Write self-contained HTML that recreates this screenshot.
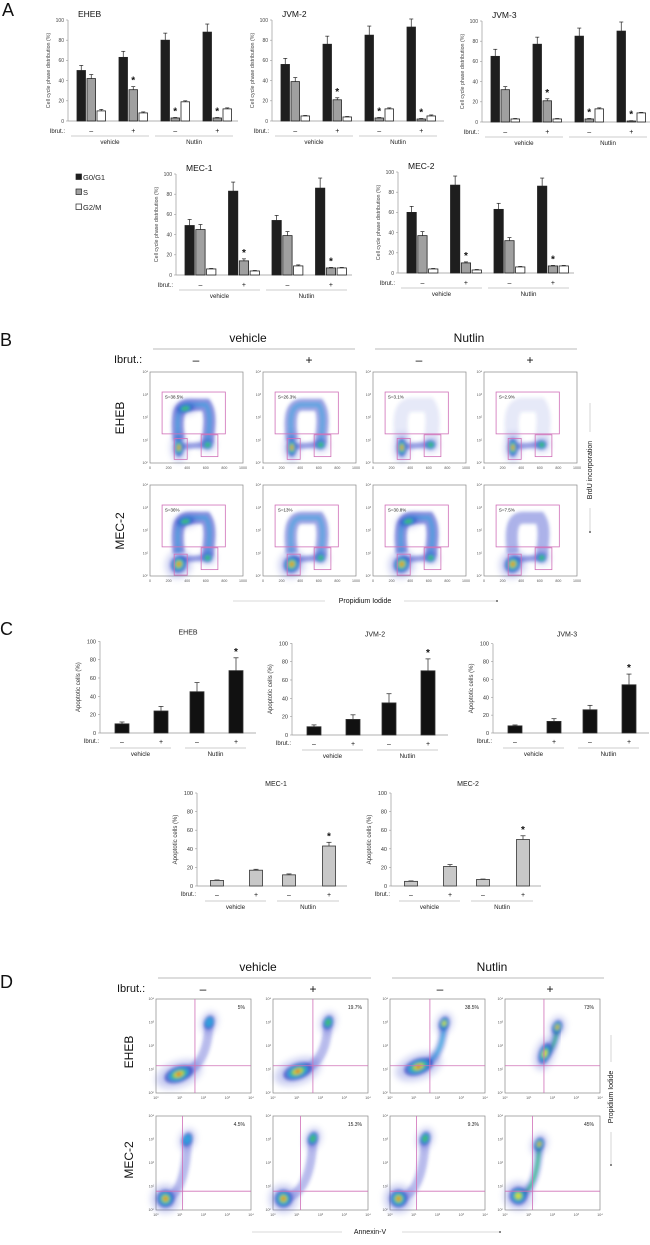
<!DOCTYPE html>
<html>
<head>
<meta charset="utf-8">
<style>
html,body{margin:0;padding:0;background:#fff;}
svg{display:block;font-family:"Liberation Sans",Arial,sans-serif;}
</style>
</head>
<body>
<svg id="fig" xmlns="http://www.w3.org/2000/svg" width="650" height="1245" viewBox="0 0 650 1245">
<defs>
<filter id="soft" x="-30%" y="-30%" width="160%" height="160%"><feGaussianBlur stdDeviation="1.6"/></filter>
<filter id="haze" x="-50%" y="-50%" width="200%" height="200%"><feGaussianBlur stdDeviation="3.5"/></filter>
</defs>
</svg>
<script>
// ---------- Panel A data (cell cycle %, groups: veh-, veh+, nut-, nut+) ----------
const phaseCats = ['G0/G1','S','G2/M'];
const ibrutLabels = ['–','+','–','+'];
const treatLabels = ['vehicle','Nutlin'];
const cycleTicks = [0,20,40,60,80,100];

const ehebG1 = [50,63,80,88];   const ehebG1Err = [5,6,7,8];
const ehebS  = [42,31,3,3];     const ehebSErr  = [4,3,0.5,0.5];
const ehebG2M= [10,8,19,12];    const ehebG2MErr= [1.5,1,1,1];
const jvm2G1 = [56,76,85,93];   const jvm2G1Err = [6,8,9,8];
const jvm2S  = [39,21,3,2];     const jvm2SErr  = [4,2,0.5,0.5];
const jvm2G2M= [5,4,12,5];      const jvm2G2MErr= [0.5,0.5,1,1];
const jvm3G1 = [65,77,85,90];   const jvm3G1Err = [7,7,8,9];
const jvm3S  = [32,21,3,1];     const jvm3SErr  = [3,2,0.5,0.3];
const jvm3G2M= [3,3,13,9];      const jvm3G2MErr= [0.5,0.5,1,0.5];
const mec1G1 = [49,83,54,86];   const mec1G1Err = [6,9,5,10];
const mec1S  = [45,14,39,7];    const mec1SErr  = [5,2,4,0.5];
const mec1G2M= [6,4,9,7];       const mec1G2MErr= [0.5,0.5,1,0.5];
const mec2G1 = [60,87,63,86];   const mec2G1Err = [6,9,6,8];
const mec2S  = [37,10,32,7];    const mec2SErr  = [4,1,3,0.5];
const mec2G2M= [4,3,6,7];       const mec2G2MErr= [0.5,0.5,0.5,0.5];
const starsTop = [false,true,true,true];
const starsBottom = [false,true,false,true];

// ---------- Panel C data (apoptotic cells %) ----------
const apopTicks = [0,20,40,60,80,100];
const ehebApop = [10,24,45,68];  const ehebApopErr = [2,5,10,14];
const jvm2Apop = [9,17,35,70];   const jvm2ApopErr = [2,5,10,13];
const jvm3Apop = [8,13,26,54];   const jvm3ApopErr = [1,3,5,12];
const mec1Apop = [6,17,12,43];   const mec1ApopErr = [0.5,1,1,4];
const mec2Apop = [5,21,7,50];    const mec2ApopErr = [0.5,2,0.5,4];
const apopStars = [false,false,false,true];

// ---------- Panel B / D labels ----------
const bPercents = ['S=38.5%','S=26.3%','S=3.1%','S=2.9%','S=36%','S=13%','S=30.8%','S=7.5%'];
const bSIntensity = [4,3,1,1,4,3,4,2];
const dPercents = ['5%','19.7%','38.5%','73%','4.5%','15.3%','9.3%','45%'];
const bxTicks = ['0','200','400','600','800','1000'];
const logTicks = ['10⁰','10¹','10²','10³','10⁴'];

const NS = 'http://www.w3.org/2000/svg';
const svg = document.getElementById('fig');
function mk(parent, tag, attrs){
  const e = document.createElementNS(NS, tag);
  for (const k in attrs) e.setAttribute(k, attrs[k]);
  parent.appendChild(e);
  return e;
}
function tx(parent, x, y, s, size, anchor, extra){
  const a = {x:x, y:y, 'font-size':size, 'text-anchor':anchor||'start', fill:'#222'};
  if (extra) for (const k in extra) a[k] = extra[k];
  const t = mk(parent, 'text', a);
  t.textContent = s;
  return t;
}

// ---------- Panel letters ----------
[['A',2,16],['B',0,346],['C',0,635],['D',0,988]].forEach(function(p){
  const t = tx(svg, p[1], p[2], p[0], 18, 'start', {fill:'#111'});
  
  
});

// ---------- Cycle bar chart ----------
function cycleChart(name, ax, zy, title, g1, g1e, s, se, g2, g2e, stars, spacing, bw, len){
  const g = mk(svg, 'g', {});
  
  
  const k = 1.01;
  const y = function(v){ return zy - v * k; };
  mk(g, 'line', {x1:ax, y1:y(100), x2:ax, y2:zy, stroke:'#999', 'stroke-width':0.7});
  mk(g, 'line', {x1:ax, y1:zy, x2:ax+len, y2:zy, stroke:'#999', 'stroke-width':0.7});
  cycleTicks.forEach(function(t){
    mk(g, 'line', {x1:ax-2, y1:y(t), x2:ax, y2:y(t), stroke:'#999', 'stroke-width':0.6});
    const l = tx(g, ax-4, y(t)+1.8, String(t), 5, 'end', {fill:'#444'});
    
    
  });
  const yt = tx(g, 0, 0, 'Cell cycle phase distribution (%)', 5.3, 'middle', {fill:'#444', transform:'translate(' + (ax-18) + ',' + y(50) + ') rotate(-90)'});
  
  
  const tt = tx(g, ax+10, zy-104, title, 8.5, 'start', {fill:'#111'});
  
  
  const series = [[g1,g1e,'#1e1e1e'],[s,se,'#a0a0a0'],[g2,g2e,'#ffffff']];
  for (let gi=0; gi<4; gi++){
    const gx = ax + 9 + gi*spacing;
    series.forEach(function(sr, si){
      const bx = gx + si*(bw+1.5);
      const v = sr[0][gi], e = sr[1][gi];
      mk(g, 'line', {x1:bx+bw/2, y1:y(v), x2:bx+bw/2, y2:y(v+e), stroke:'#222', 'stroke-width':0.7});
      mk(g, 'line', {x1:bx+bw/2-2, y1:y(v+e), x2:bx+bw/2+2, y2:y(v+e), stroke:'#222', 'stroke-width':0.7});
      const r = mk(g, 'rect', {x:bx, y:y(v), width:bw, height:v*k, fill:sr[2], stroke:'#222', 'stroke-width':0.8});
      
      
      if (si===1 && stars[gi]){
        const st = tx(g, bx+bw/2, y(v+e)-3, '*', 10, 'middle', {fill:'#111', 'font-weight':'bold'});
        
        
      }
    });
    const il = tx(g, gx + bw + 1.5 + bw/2, zy+12, ibrutLabels[gi], 7, 'middle', {fill:'#111'});
    
    
  }
  const ib = tx(g, ax-3, zy+12, 'Ibrut.:', 6, 'end', {fill:'#222'});
  
  
  for (let t=0; t<2; t++){
    const x0 = ax + 3 + t*2*spacing, x1 = x0 + 2*spacing - 6;
    mk(g, 'line', {x1:x0, y1:zy+15, x2:x1, y2:zy+15, stroke:'#bbb', 'stroke-width':0.8});
    const tl = tx(g, (x0+x1)/2, zy+23, treatLabels[t], 6.2, 'middle', {fill:'#222'});
    
    
  }
}
cycleChart('eheb', 68, 121, 'EHEB', ehebG1, ehebG1Err, ehebS, ehebSErr, ehebG2M, ehebG2MErr, starsTop, 42, 8.5, 170);
cycleChart('jvm2', 272, 121, 'JVM-2', jvm2G1, jvm2G1Err, jvm2S, jvm2SErr, jvm2G2M, jvm2G2MErr, starsTop, 42, 8.5, 172);
cycleChart('jvm3', 482, 122, 'JVM-3', jvm3G1, jvm3G1Err, jvm3S, jvm3SErr, jvm3G2M, jvm3G2MErr, starsTop, 42, 8.5, 168);
cycleChart('mec1', 176, 275, 'MEC-1', mec1G1, mec1G1Err, mec1S, mec1SErr, mec1G2M, mec1G2MErr, starsBottom, 43.5, 9.3, 176);
cycleChart('mec2', 398, 273, 'MEC-2', mec2G1, mec2G1Err, mec2S, mec2SErr, mec2G2M, mec2G2MErr, starsBottom, 43.5, 9.3, 176);

// legend
const legFill = ['#1e1e1e','#a0a0a0','#ffffff'];
phaseCats.forEach(function(c, i){
  const r = mk(svg, 'rect', {x:76, y:174+i*15, width:5.5, height:5.5, fill:legFill[i], stroke:'#222', 'stroke-width':0.7});
  
  
  const t = tx(svg, 83, 180+i*15, c, 7.5, 'start', {fill:'#222'});
  
  
});

// ---------- Apoptosis bar chart ----------
function apopChart(name, ax, zy, k, title, titleDx, vals, errs, fill, offs, bw, len){
  const g = mk(svg, 'g', {});
  
  
  const y = function(v){ return zy - v*k; };
  mk(g, 'line', {x1:ax, y1:y(100), x2:ax, y2:zy, stroke:'#999', 'stroke-width':0.7});
  mk(g, 'line', {x1:ax, y1:zy, x2:ax+len, y2:zy, stroke:'#999', 'stroke-width':0.7});
  apopTicks.forEach(function(t){
    mk(g, 'line', {x1:ax-2, y1:y(t), x2:ax, y2:y(t), stroke:'#999', 'stroke-width':0.6});
    const l = tx(g, ax-4, y(t)+2, String(t), 5.5, 'end', {fill:'#333'});
    
    
  });
  const yt = tx(g, 0, 0, 'Apoptotic cells (%)', 6, 'middle', {fill:'#333', transform:'translate(' + (ax-20) + ',' + y(50) + ') rotate(-90)'});
  
  
  const tt = tx(g, ax+titleDx, y(100)-7, title, 7, 'middle', {fill:'#222'});
  
  
  for (let i=0; i<4; i++){
    const cx = ax + offs[i];
    const v = vals[i], e = errs[i];
    mk(g, 'line', {x1:cx, y1:y(v), x2:cx, y2:y(v+e), stroke:'#222', 'stroke-width':0.7});
    mk(g, 'line', {x1:cx-2.5, y1:y(v+e), x2:cx+2.5, y2:y(v+e), stroke:'#222', 'stroke-width':0.7});
    const r = mk(g, 'rect', {x:cx-bw/2, y:y(v), width:bw, height:v*k, fill:fill, stroke:'#333', 'stroke-width':0.8});
    
    
    if (apopStars[i]){
      const st = tx(g, cx, y(v+e)-3, '*', 10, 'middle', {fill:'#111', 'font-weight':'bold'});
      
      
    }
    const il = tx(g, cx, zy+11, ibrutLabels[i], 7, 'middle', {fill:'#111'});
    
    
  }
  const ib = tx(g, ax-1, zy+10, 'Ibrut.:', 6, 'end', {fill:'#222'});
  
  
  for (let t=0; t<2; t++){
    const x0 = ax + offs[2*t] - 12, x1 = ax + offs[2*t+1] + 10;
    mk(g, 'line', {x1:x0, y1:zy+15, x2:x1, y2:zy+15, stroke:'#bbb', 'stroke-width':0.8});
    const tl = tx(g, (x0+x1)/2, zy+23, treatLabels[t], 6.2, 'middle', {fill:'#222'});
    
    
  }
}
const topOffs = [22,61,97,136];
const botOffs = [20,59,92,132];
apopChart('eheb', 100, 733, 0.917, 'EHEB', 88, ehebApop, ehebApopErr, '#111', topOffs, 14, 156);
apopChart('jvm2', 292, 735, 0.917, 'JVM-2', 83, jvm2Apop, jvm2ApopErr, '#111', topOffs, 14, 156);
apopChart('jvm3', 493, 733, 0.893, 'JVM-3', 74, jvm3Apop, jvm3ApopErr, '#111', topOffs, 14, 156);
apopChart('mec1', 197, 886, 0.93, 'MEC-1', 79, mec1Apop, mec1ApopErr, '#c8c8c8', botOffs, 13, 150);
apopChart('mec2', 391, 886, 0.93, 'MEC-2', 77, mec2Apop, mec2ApopErr, '#c8c8c8', botOffs, 13, 150);

// ---------- Flow plot helpers ----------
const heat = ['#2a38c0','#2aa6e0','#40c060','#e8e040','#e02a20'];
function blob(g, x, y, rx, ry, rot, lvl){
  const b = mk(g, 'g', {filter:'url(#soft)'});
  mk(g, 'ellipse', {cx:x, cy:y, rx:rx*1.6, ry:ry*1.6, fill:'#3040c8', opacity:0.25, filter:'url(#haze)',
      transform:'rotate(' + rot + ' ' + x + ' ' + y + ')'});
  g.appendChild(b);
  for (let i=0; i<lvl; i++){
    const s = [1,0.72,0.52,0.34,0.18][i];
    mk(b, 'ellipse', {cx:x, cy:y, rx:rx*s, ry:ry*s, fill:heat[i], opacity:i===0?0.7:0.9,
      transform:'rotate(' + rot + ' ' + x + ' ' + y + ')'});
  }
}
function frame(g, x, y, w, h, xt){
  mk(g, 'rect', {x:x, y:y, width:w, height:h, fill:'#fff', stroke:'#888', 'stroke-width':0.7});
  xt.forEach(function(t, i){
    tx(g, x + i*w/(xt.length-1), y+h+6, t, 3.6, 'middle', {fill:'#555'});
  });
  logTicks.forEach(function(t, i){
    tx(g, x-2, y+h - i*h/4 + 1.2, t, 3.6, 'end', {fill:'#555'});
  });
}
function lbl(g, x, y, s, size, anchor, rot, name){
  const t = tx(g, x, y, s, size, anchor, {fill:'#111', transform: rot ? 'rotate(-90 ' + x + ' ' + y + ')' : ''});
  
  
  return t;
}

// ---------- Panel B ----------
(function(){
  const g = mk(svg, 'g', {});
  
  
  const cols = [150,263,373,484], rows = [372,485], w = 93, h = 91;
  lbl(g, 248, 342, 'vehicle', 12, 'middle', false, 'header-vehicle');
  lbl(g, 469, 342, 'Nutlin', 12, 'middle', false, 'header-nutlin');
  mk(g, 'line', {x1:153, y1:349, x2:355, y2:349, stroke:'#bbb', 'stroke-width':1});
  mk(g, 'line', {x1:375, y1:349, x2:577, y2:349, stroke:'#bbb', 'stroke-width':1});
  lbl(g, 114, 363, 'Ibrut.:', 11, 'start', false, 'ibrut-label');
  cols.forEach(function(cx, i){ lbl(g, cx + 46, 364, ibrutLabels[i], 12, 'middle', false, 'ibrut-sign'); });
  lbl(g, 124, 418, 'EHEB', 12, 'middle', true, 'row-label-eheb');
  lbl(g, 124, 531, 'MEC-2', 12, 'middle', true, 'row-label-mec2');
  for (let r=0; r<2; r++) for (let c=0; c<4; c++){
    const x = cols[c], y = rows[r], idx = r*4+c;
    const p = mk(g, 'g', {});
    
    
    frame(p, x, y, w, h, bxTicks);
    const U = function(u){ return x + u*w; }, V = function(v){ return y + v*h; };
    const si = bSIntensity[idx];
    const d = 'M' + U(.31) + ' ' + V(.75) + ' C' + U(.28) + ' ' + V(.5) + ' ' + U(.3) + ' ' + V(.36) + ' ' + U(.42) + ' ' + V(.36) +
      ' L' + U(.6) + ' ' + V(.36) + ' C' + U(.66) + ' ' + V(.45) + ' ' + U(.64) + ' ' + V(.6) + ' ' + U(.62) + ' ' + V(.78);
    const band = mk(p, 'g', {filter:'url(#soft)'});
    mk(band, 'path', {d:d, fill:'none', stroke:'#3040c8', 'stroke-width':si>1?12:14, opacity:si>1?(0.2+si*0.1):0.12});
    if (si>=3) mk(band, 'path', {d:d, fill:'none', stroke:'#2aa6e0', 'stroke-width':3.5, opacity:0.55});
    mk(band, 'path', {d:'M' + U(.32) + ' ' + V(.82) + ' L' + U(.6) + ' ' + V(.8), stroke:'#3040c8', 'stroke-width':6, opacity:0.5});
    if (si>=4) blob(p, U(.38), V(.4), 8, 4, -10, 3);
    blob(p, U(.31), V(r===0?.83:.87), r===0?5:8, r===0?9:9, r===0?0:30, 5);
    blob(p, U(.62), V(.8), 5, 4.5, 0, 3);
    const gs = {fill:'none', stroke:'#d070b8', 'stroke-width':0.8};
    mk(p, 'rect', Object.assign({x:U(.13), y:V(.22), width:w*.68, height:h*.46}, gs));
    mk(p, 'rect', Object.assign({x:U(.26), y:V(r===0?.73:.76), width:w*.14, height:h*.23}, gs));
    mk(p, 'rect', Object.assign({x:U(.55), y:V(.69), width:w*.18, height:h*.24}, gs));
    const pt = tx(p, U(.16), V(.29), bPercents[idx], 4.5, 'start', {fill:'#222'});
    
    
  }
  lbl(g, 365, 603, 'Propidium Iodide', 7, 'middle', false, 'x-axis-title-pi');
  mk(g, 'line', {x1:233, y1:601, x2:325, y2:601, stroke:'#ccc', 'stroke-width':0.8});
  mk(g, 'line', {x1:404, y1:601, x2:496, y2:601, stroke:'#ccc', 'stroke-width':0.8});
  mk(g, 'circle', {cx:497, cy:601, r:0.9, fill:'#333'});
  lbl(g, 592, 470, 'BrdU incorporation', 7, 'middle', true, 'y-axis-title-brdu');
  mk(g, 'line', {x1:590, y1:403, x2:590, y2:432, stroke:'#ccc', 'stroke-width':0.8});
  mk(g, 'line', {x1:590, y1:508, x2:590, y2:531, stroke:'#ccc', 'stroke-width':0.8});
  mk(g, 'circle', {cx:590, cy:532, r:0.9, fill:'#333'});
})();

// ---------- Panel D ----------
(function(){
  const g = mk(svg, 'g', {});
  
  
  const cols = [156,273,390,505], rows = [999,1116], w = 95, h = 94;
  lbl(g, 258, 971, 'vehicle', 12, 'middle', false, 'header-vehicle');
  lbl(g, 492, 971, 'Nutlin', 12, 'middle', false, 'header-nutlin');
  mk(g, 'line', {x1:158, y1:978, x2:371, y2:978, stroke:'#bbb', 'stroke-width':1});
  mk(g, 'line', {x1:392, y1:978, x2:604, y2:978, stroke:'#bbb', 'stroke-width':1});
  lbl(g, 117, 992, 'Ibrut.:', 11, 'start', false, 'ibrut-label');
  [203,313,440,550].forEach(function(cx, i){ lbl(g, cx, 993, ibrutLabels[i], 12, 'middle', false, 'ibrut-sign'); });
  lbl(g, 133, 1052, 'EHEB', 12, 'middle', true, 'row-label-eheb');
  lbl(g, 133, 1160, 'MEC-2', 12, 'middle', true, 'row-label-mec2');
  const vq = [[.41,.42,.42,.41],[.28,.29,.28,.29]];
  const hq = [.71,.80];
  // [mainX, mainY, tailTopX, tailTopY, tailLevel, mainLevel]
  const shapes = [
    [.24,.8,.56,.25,1,5],[.26,.77,.58,.25,2,5],[.3,.72,.57,.26,3,5],[.42,.58,.55,.3,4,4],
    [.1,.88,.33,.25,1,5],[.11,.88,.42,.24,2,5],[.09,.88,.37,.24,2,5],[.14,.85,.36,.3,4,4]
  ];
  for (let r=0; r<2; r++) for (let c=0; c<4; c++){
    const x = cols[c], y = rows[r], idx = r*4+c;
    const p = mk(g, 'g', {});
    
    
    frame(p, x, y, w, h, logTicks);
    const U = function(u){ return x + u*w; }, V = function(v){ return y + v*h; };
    const s = shapes[idx];
    const d = 'M' + U(s[0]) + ' ' + V(s[1]) + ' Q' + U(s[2]-0.02) + ' ' + V(s[1]-0.05) + ' ' + U(s[2]) + ' ' + V(s[3]);
    const band = mk(p, 'g', {filter:'url(#soft)'});
    mk(band, 'path', {d:d, fill:'none', stroke:'#3040c8', 'stroke-width':9, opacity:0.35});
    if (s[4]>=3) mk(band, 'path', {d:d, fill:'none', stroke:'#2aa6e0', 'stroke-width':3.5, opacity:0.7});
    if (s[4]>=4) mk(band, 'path', {d:d, fill:'none', stroke:'#40c060', 'stroke-width':2.5, opacity:0.8});
    blob(p, U(s[2]), V(s[3]), 5, 7, 20, Math.min(5, s[4]+1));
    if (idx !== 3) blob(p, U(s[0]), V(s[1]), r===0?15:9, r===0?8:9, r===0?-20:-40, s[5]);
    else blob(p, U(s[0]), V(s[1]), 6, 11, 20, 4);
    mk(p, 'line', {x1:U(vq[r][c]), y1:y, x2:U(vq[r][c]), y2:y+h, stroke:'#d070b8', 'stroke-width':0.8});
    mk(p, 'line', {x1:x, y1:V(hq[r]), x2:x+w, y2:V(hq[r]), stroke:'#d070b8', 'stroke-width':0.8});
    const pt = tx(p, x+w-6, y+10, dPercents[idx], 5, 'end', {fill:'#222'});
    
    
  }
  lbl(g, 370, 1234, 'Annexin-V', 7, 'middle', false, 'x-axis-title-annexin');
  mk(g, 'line', {x1:252, y1:1232, x2:342, y2:1232, stroke:'#ccc', 'stroke-width':0.8});
  mk(g, 'line', {x1:402, y1:1232, x2:499, y2:1232, stroke:'#ccc', 'stroke-width':0.8});
  mk(g, 'circle', {cx:500, cy:1232, r:0.9, fill:'#333'});
  lbl(g, 613, 1097, 'Propidium Iodide', 7, 'middle', true, 'y-axis-title-pi');
  mk(g, 'line', {x1:611, y1:1035, x2:611, y2:1062, stroke:'#ccc', 'stroke-width':0.8});
  mk(g, 'line', {x1:611, y1:1132, x2:611, y2:1164, stroke:'#ccc', 'stroke-width':0.8});
  mk(g, 'circle', {cx:611, cy:1165, r:0.9, fill:'#333'});
})();
</script>
</body>
</html>
